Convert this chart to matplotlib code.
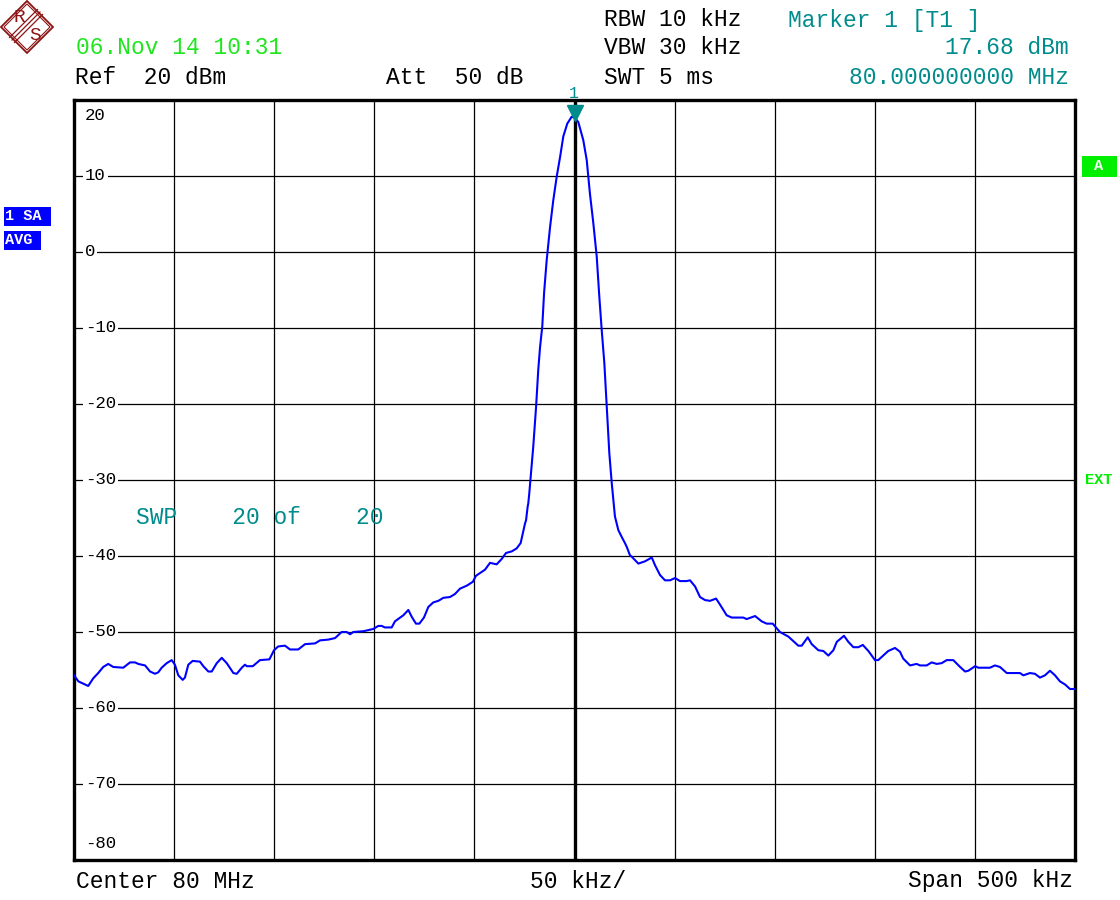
import numpy as np
import matplotlib
matplotlib.use("Agg")
import matplotlib.pyplot as plt
from matplotlib import transforms
from matplotlib.patches import Polygon, Rectangle

# trace: offset from center (kHz) and level (dBm)
freq_khz = [-250.0, -247.8, -245.3, -242.9, -240.4, -237.9, -235.4, -232.9, -230.4, -225.4,
            -222.0, -219.5, -217.9, -214.5, -212.0, -209.5, -207.9, -206.2, -203.7, -201.2,
            -199.6, -197.9, -195.7, -194.6, -192.9, -190.7, -187.1, -185.4, -182.9, -181.2,
            -178.7, -176.2, -173.7, -170.4, -168.7, -166.2, -164.6, -163.7, -160.7, -157.1,
            -152.4, -150.1, -148.0, -144.6, -142.1, -138.0, -134.6, -129.6, -127.1, -123.0,
            -119.6, -116.3, -113.8, -112.1, -110.5, -105.5, -100.5, -98.0, -96.3, -94.7,
            -91.3, -89.7, -85.5, -83.0, -81.3, -79.2, -77.5, -75.2, -73.0, -70.5,
            -68.0, -65.5, -62.2, -59.7, -57.2, -53.8, -50.8, -49.2, -46.4, -44.7,
            -42.2, -38.9, -36.4, -34.2, -31.4, -28.9, -26.9, -25.6, -24.7, -24.2,
            -23.4, -23.1, -22.6, -21.9, -20.6, -19.2, -18.1, -17.2, -16.1, -15.2,
            -13.9, -12.2, -10.6, -8.9, -7.2, -5.6, -3.6, -1.4, 0.0, 1.9,
            4.4, 6.1, 6.9, 7.7, 9.4, 11.1, 12.4, 13.6, 14.9, 16.1,
            17.4, 18.6, 19.4, 20.2, 21.9, 23.6, 25.2, 26.1, 27.7, 28.6,
            31.9, 35.2, 38.6, 40.2, 42.7, 45.2, 47.7, 50.2, 52.7, 56.0,
            57.7, 60.2, 62.7, 65.2, 67.7, 70.7, 72.7, 76.0, 78.5, 84.3,
            86.0, 90.2, 93.5, 96.0, 99.0, 102.6, 106.8, 111.8, 113.5, 116.5,
            118.5, 121.8, 124.3, 126.8, 129.3, 131.0, 134.6, 136.8, 139.3, 141.8,
            144.0, 146.8, 150.1, 151.7, 156.7, 160.1, 162.6, 164.2, 167.6, 170.9,
            172.6, 175.9, 178.4, 180.9, 183.4, 185.9, 189.2, 192.6, 195.1, 196.7,
            200.1, 201.7, 207.5, 210.0, 212.5, 215.9, 222.5, 224.2, 227.5, 230.0,
            232.5, 235.0, 237.5, 240.0, 242.5, 245.0, 247.5, 250.0]
level_dbm = [-55.7, -56.5, -56.8, -57.1, -56.1, -55.4, -54.6, -54.2, -54.6, -54.7,
             -54.0, -54.0, -54.2, -54.4, -55.2, -55.5, -55.3, -54.7, -54.1, -53.7,
             -54.3, -55.7, -56.3, -56.0, -54.3, -53.8, -53.9, -54.5, -55.2, -55.2,
             -54.1, -53.4, -54.1, -55.4, -55.5, -54.7, -54.3, -54.5, -54.5, -53.7,
             -53.6, -52.4, -51.9, -51.8, -52.3, -52.3, -51.6, -51.5, -51.1, -51.0,
             -50.8, -50.0, -50.0, -50.3, -50.0, -49.9, -49.6, -49.2, -49.2, -49.4,
             -49.4, -48.6, -47.8, -47.1, -48.0, -48.9, -48.9, -48.1, -46.7, -46.1,
             -45.9, -45.5, -45.4, -45.0, -44.3, -43.9, -43.4, -42.6, -42.1, -41.8,
             -40.9, -41.1, -40.4, -39.6, -39.4, -39.0, -38.3, -36.8, -35.7, -35.3,
             -33.5, -33.1, -31.8, -29.6, -25.6, -20.4, -15.5, -12.5, -9.8, -5.4,
             -1.1, 3.3, 6.8, 9.9, 12.5, 15.2, 16.9, 17.8, 17.68, 17.1,
             14.7, 12.1, 9.9, 7.7, 3.8, -0.6, -5.9, -10.3, -14.6, -20.4,
             -26.5, -30.4, -32.6, -34.8, -36.6, -37.5, -38.3, -38.8, -39.9, -40.1,
             -41.0, -40.7, -40.2, -41.2, -42.5, -43.2, -43.2, -42.9, -43.3, -43.3,
             -43.2, -44.0, -45.4, -45.8, -45.9, -45.6, -46.4, -47.8, -48.1, -48.1,
             -48.3, -47.9, -48.6, -48.9, -48.9, -50.0, -50.6, -51.8, -51.8, -50.7,
             -51.6, -52.4, -52.5, -53.1, -52.4, -51.3, -50.5, -51.3, -52.0, -52.0,
             -51.7, -52.5, -53.7, -53.7, -52.5, -52.1, -52.6, -53.5, -54.4, -54.2,
             -54.4, -54.4, -54.0, -54.2, -54.1, -53.7, -53.7, -54.6, -55.2, -55.1,
             -54.5, -54.7, -54.7, -54.4, -54.6, -55.4, -55.4, -55.7, -55.4, -55.5,
             -56.0, -55.7, -55.1, -55.7, -56.5, -56.9, -57.5, -57.5]

ytick_vals = [10, 0, -10, -20, -30, -40, -50, -60, -70]
marker_freq = 0.0
marker_level = 17.68

W, H = 1120, 900
MONO = "Liberation Mono"
GREEN = "#1ee61e"
TEAL = "#008c8c"
BLUE = "#0000ff"
DARKRED = "#8c1414"

fig = plt.figure(figsize=(W / 100, H / 100), dpi=100)
fig.patch.set_facecolor("white")

def fx(px):
    return px / W

def fy(py):
    return 1 - py / H

ax = fig.add_axes([fx(74), fy(860), fx(1075) - fx(74), fy(100) - fy(860)])
ax.set_xlim(-250, 250)
ax.set_ylim(-80, 20)
ax.set_xticks(np.arange(-250, 251, 50))
ax.set_yticks(np.arange(-80, 21, 10))
ax.grid(True, color="black", linewidth=0.9)
ax.tick_params(length=0, labelbottom=False, labelleft=False)
for s in ax.spines.values():
    s.set_linewidth(2.4)
ax.axvline(0, color="black", linewidth=2.4, zorder=2)

# y labels sitting on the grid lines
tr = transforms.blended_transform_factory(ax.transAxes, ax.transData)
for v in ytick_vals:
    ax.text(0.011, v, "%d" % v, transform=tr, ha="left", va="center",
            fontsize=12.5, family=MONO, zorder=3,
            bbox=dict(facecolor="white", edgecolor="none", pad=1.5))
ax.text(0.011, 18.0, "20", transform=tr, ha="left", va="center", fontsize=12.5, family=MONO)
ax.text(0.011, -77.8, "-80", transform=tr, ha="left", va="center", fontsize=12.5, family=MONO)

ax.plot(freq_khz, level_dbm, color=BLUE, linewidth=1.5, zorder=4)

# marker 1
off = transforms.offset_copy(ax.transData, fig=fig, x=0, y=5, units="dots")
ax.plot([marker_freq], [marker_level], marker="v", color=TEAL, markersize=11,
        transform=off, zorder=5, clip_on=False)
fig.text(fx(574), fy(93), "1", color=TEAL, fontsize=12, family=MONO, ha="center", va="center")

ax.text(-219, -35, "SWP    20 of    20", color=TEAL, fontsize=16.5, family=MONO,
        ha="left", va="center", zorder=3)

# header / footer text
fs = 16.5
fig.text(fx(76), fy(48), "06.Nov 14 10:31", color=GREEN, fontsize=fs, family=MONO, va="center")
fig.text(fx(75), fy(77), "Ref  20 dBm", fontsize=fs, family=MONO, va="center")
fig.text(fx(386), fy(77), "Att  50 dB", fontsize=fs, family=MONO, va="center")
fig.text(fx(604), fy(20), "RBW 10 kHz", fontsize=fs, family=MONO, va="center")
fig.text(fx(604), fy(48), "VBW 30 kHz", fontsize=fs, family=MONO, va="center")
fig.text(fx(604), fy(77), "SWT 5 ms", fontsize=fs, family=MONO, va="center")
fig.text(fx(788), fy(20), "Marker 1 [T1 ]", color=TEAL, fontsize=fs, family=MONO, va="center")
fig.text(fx(1069), fy(48), "17.68 dBm", color=TEAL, fontsize=fs, family=MONO, va="center", ha="right")
fig.text(fx(1069), fy(77), "80.000000000 MHz", color=TEAL, fontsize=fs, family=MONO, va="center", ha="right")
fig.text(fx(76), fy(881), "Center 80 MHz", fontsize=fs, family=MONO, va="center")
fig.text(fx(578), fy(881), "50 kHz/", fontsize=fs, family=MONO, va="center", ha="center")
fig.text(fx(1073), fy(881), "Span 500 kHz", fontsize=fs, family=MONO, va="center", ha="right")

# side badges
def badge(x0, y0, x1, y1, txt, color):
    fig.patches.append(Rectangle((fx(x0), fy(y1)), fx(x1) - fx(x0), fy(y0) - fy(y1),
                                 transform=fig.transFigure, facecolor=color, edgecolor="none"))
    fig.text(fx(x0 + 1), fy((y0 + y1) / 2), txt, color="white", fontsize=11, family=MONO,
             weight="bold", va="center")

badge(4, 207, 51, 226, "1 SA", BLUE)
badge(4, 231, 41, 250, "AVG", BLUE)
fig.patches.append(Rectangle((fx(1082), fy(177)), fx(1117) - fx(1082), fy(156) - fy(177),
                             transform=fig.transFigure, facecolor="#00ee00", edgecolor="none"))
fig.text(fx(1099), fy(166), "A", color="white", fontsize=11, family=MONO, weight="bold",
         va="center", ha="center")
fig.text(fx(1099), fy(480), "EXT", color="#00ee00", fontsize=11, family=MONO, weight="bold",
         va="center", ha="center")

# R&S logo
lg = fig.add_axes([0, fy(54), fx(54), fy(0) - fy(54)])
lg.set_xlim(0, 54)
lg.set_ylim(54, 0)
lg.axis("off")
lg.add_patch(Polygon([(27, 1), (53, 27), (27, 53), (1, 27)], closed=True, fill=False,
                     edgecolor=DARKRED, linewidth=1.3))
lg.add_patch(Polygon([(27, 4), (50, 27), (27, 50), (4, 27)], closed=True, fill=False,
                     edgecolor=DARKRED, linewidth=0.8))
for d in (-2.5, 0, 2.5):
    lg.plot([12 + d, 40 + d], [40 + d, 12 + d], color=DARKRED, linewidth=0.9)
lg.text(19, 18, "R", color=DARKRED, fontsize=14, family=MONO, ha="center", va="center")
lg.text(35, 36, "S", color=DARKRED, fontsize=14, family=MONO, ha="center", va="center")

fig.savefig("out.png", dpi=100, facecolor="white")
